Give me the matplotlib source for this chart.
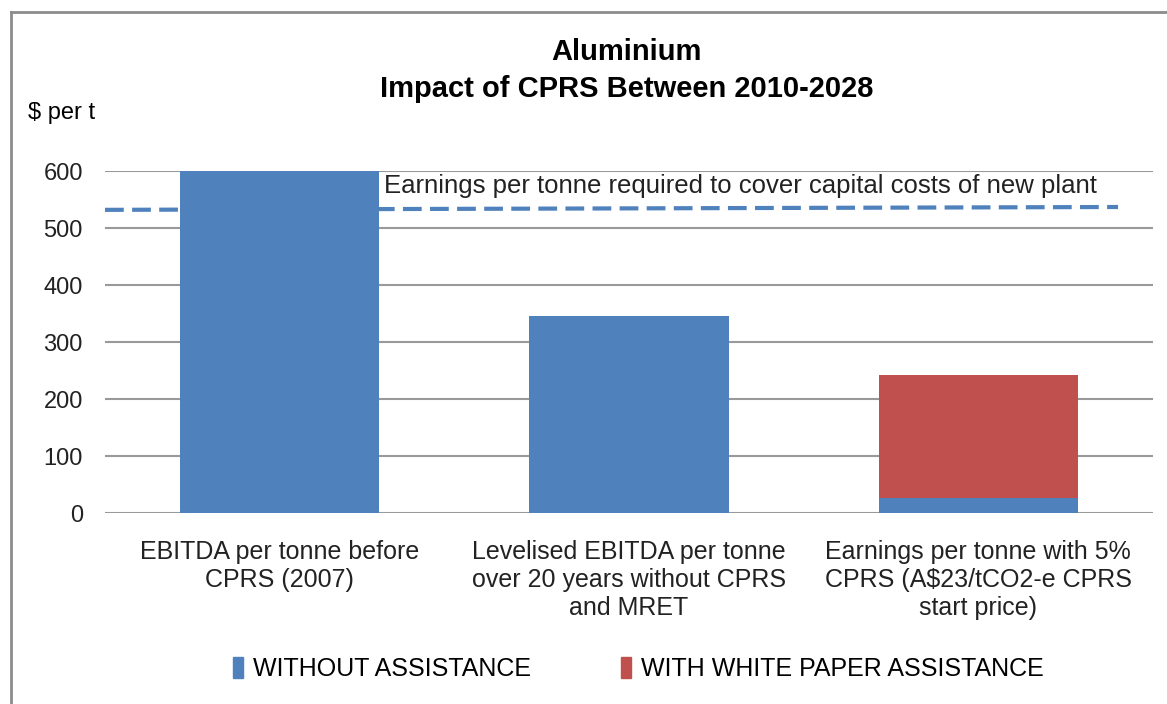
import matplotlib.pyplot as plt
from matplotlib.lines import Line2D
from matplotlib.patches import Patch

plt.rcParams['font.family'] = ['Liberation Sans', 'DejaVu Sans']

categories = ['EBITDA per tonne before\nCPRS (2007)',
              'Levelised EBITDA per tonne\nover 20 years without CPRS\nand MRET',
              'Earnings per tonne with 5%\nCPRS (A$23/tCO2-e CPRS\nstart price)']
without_assist = [600, 345, 27]
white_paper = [0, 0, 215]
hurdle_x = [-0.5, 2.4]
hurdle_y = [532, 537]
yticks = [0, 100, 200, 300, 400, 500, 600]

blue = '#4F81BD'
red = '#C0504D'

fig = plt.figure(figsize=(11.67, 7.04), dpi=100)
ax = fig.add_axes([0.090, 0.271, 0.898, 0.486])

x = range(len(categories))
ax.bar(x, without_assist, width=0.57, color=blue, zorder=2)
ax.bar(x, white_paper, width=0.57, bottom=without_assist, color=red, zorder=2)
ax.plot(hurdle_x, hurdle_y, color=blue, lw=3, ls=(0, (4.5, 2)), zorder=3, clip_on=False)
ax.text(0.30, 574, 'Earnings per tonne required to cover capital costs of new plant',
        fontsize=18.5, color='#222222', va='center', zorder=4)

ax.set_xlim(-0.5, 2.5)
ax.set_ylim(0, 600)
ax.set_yticks(yticks)
ax.set_xticks(list(x))
ax.set_xticklabels(categories, fontsize=18, color='#222222', linespacing=1.22)
ax.tick_params(axis='y', labelsize=17, colors='#222222', length=0, pad=16)
ax.tick_params(axis='x', length=0, pad=19)
ax.grid(axis='y', color='#999999', lw=1.5, zorder=0)
for s in ax.spines.values():
    s.set_visible(False)

fig.text(0.537, 0.90, 'Aluminium\nImpact of CPRS Between 2010-2028', ha='center', va='center',
         fontsize=21, fontweight='bold', linespacing=1.4)
fig.text(0.024, 0.84, '$ per t', fontsize=17, va='center')

handles = [Patch(color=blue, label='WITHOUT ASSISTANCE'),
           Patch(color=red, label='WITH WHITE PAPER ASSISTANCE')]
fig.legend(handles=handles, loc='center', bbox_to_anchor=(0.547, 0.05), ncol=2, frameon=False,
           fontsize=18, handlelength=0.4, handleheight=0.9, handletextpad=0.4, columnspacing=3.6)

# chart border (left and top edges only visible)
fig.add_artist(Line2D([11 / 1167, 11 / 1167], [0, 1 - 12 / 704], color='#8c8c8c', lw=2,
                      transform=fig.transFigure))
fig.add_artist(Line2D([11 / 1167, 1], [1 - 12 / 704, 1 - 12 / 704], color='#8c8c8c', lw=2,
                      transform=fig.transFigure))

fig.savefig('out.png', dpi=100)
